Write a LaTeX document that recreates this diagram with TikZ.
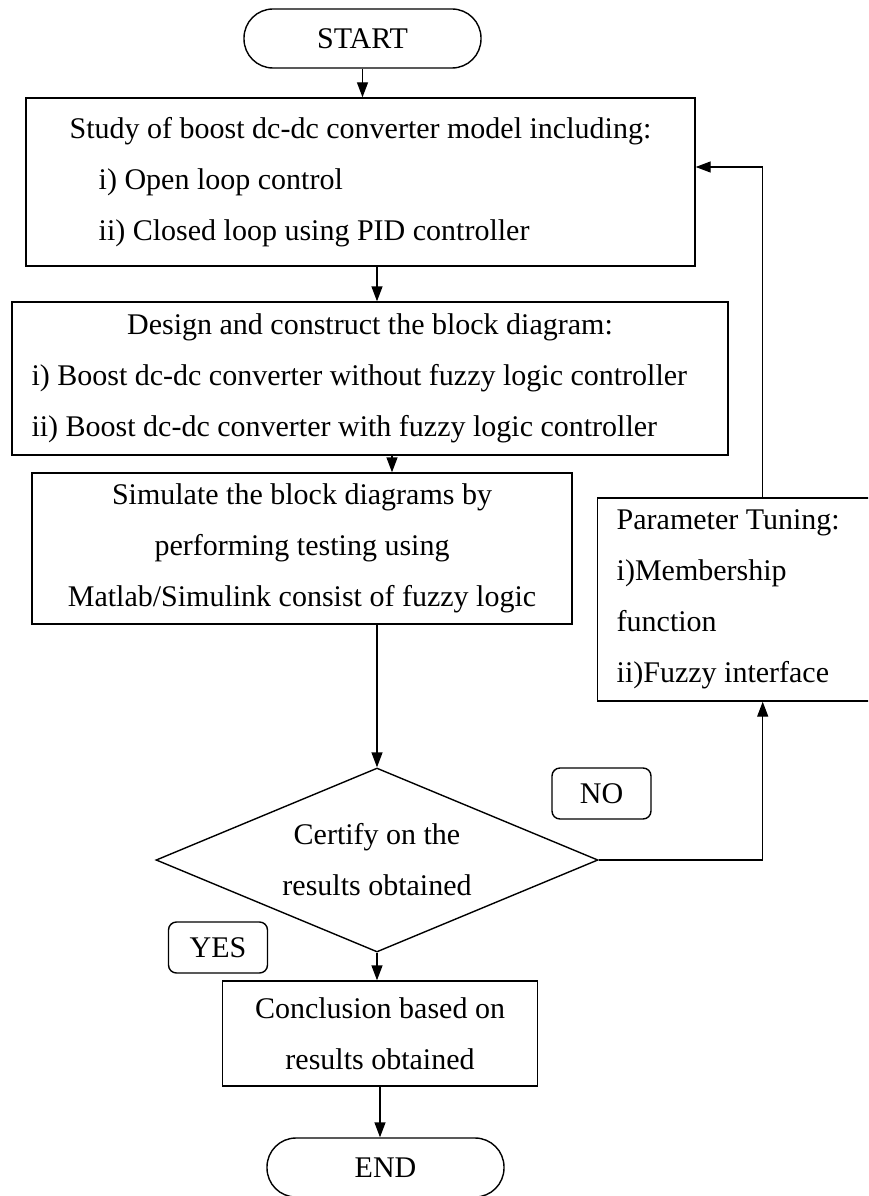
\documentclass[tikz,border=0pt]{standalone}
\usepackage{fontspec}
\setmainfont{Liberation Serif}
\usetikzlibrary{shapes.geometric,arrows.meta}

\begin{document}
\begin{tikzpicture}[x=1pt, y=-1pt, line width=1.4pt,
		every node/.style={font=\fontsize{30}{51}\selectfont},
		term/.style={draw, rounded corners=29pt, minimum width=237pt, minimum height=59pt},
		box/.style={draw, inner sep=0pt},
		cond/.style={draw, diamond, aspect=2.4, inner sep=0pt, minimum width=442pt, minimum height=184pt},
		tag/.style={draw, rounded corners=8pt, minimum width=99pt, minimum height=51pt, inner sep=0pt},
		arr/.style={-{Triangle[length=15pt, width=11pt]}}]
			\useasboundingbox (0, 0) rectangle (868, 1196);
			\clip (0, 0) rectangle (868, 1196);
			\node[term] (start) at (362.5, 38.5) {START};
			\node[box, align=left, minimum width=669pt, minimum height=168pt] (study) at (360.5, 182) {Study of boost dc-dc converter model including:\\\hspace*{29pt}i) Open loop control\\\hspace*{29pt}ii) Closed loop using PID controller};
			\node[box, align=flush left, text width=677pt, minimum width=716pt, minimum height=153pt] (design) at (370, 378.5) {\makebox[677pt]{Design and construct the block diagram:}\\i) Boost dc-dc converter without fuzzy logic controller\\ii) Boost dc-dc converter with fuzzy logic controller};
			\node[box, align=center, minimum width=540pt, minimum height=151pt] (sim) at (302, 548.5) {Simulate the block diagrams by\\performing testing using\\Matlab/Simulink consist of fuzzy logic};
			\node[box, align=flush left, text width=262pt, inner xsep=19pt, minimum width=300pt, minimum height=203pt, anchor=west] (tune) at (597, 599.5) {Parameter Tuning:\\i)Membership\\function\\ii)Fuzzy interface};
			\node[cond, align=center] (dec) at (377, 860) {Certify on the\\results obtained};
			\node[tag] (no) at (601.5, 793.5) {NO};
			\node[tag] (yes) at (218, 947.5) {YES};
			\node[box, align=center, minimum width=315pt, minimum height=105pt] (concl) at (380, 1033.5) {Conclusion based on\\results obtained};
			\node[term] (finish) at (385.5, 1167.5) {END};
			\draw[arr] (start.south) -- (start.south |- study.north);
			\draw[arr] (dec.north |- study.south) -- (dec.north |- design.north);
			\draw[arr] ([xshift=15pt]dec.north |- design.south) -- ([xshift=15pt]dec.north |- sim.north);
			\draw[arr] (dec.north |- sim.south) -- (dec.north);
			\draw[arr] (dec.south) -- (dec.south |- concl.north);
			\draw[arr] (concl.south) -- (concl.south |- finish.north);
			\draw[arr] (dec.east) -| ([xshift=15pt]tune.south);
			\draw[arr] ([xshift=15pt]tune.north) |- ([yshift=15pt]study.east);
\end{tikzpicture}
\end{document}
